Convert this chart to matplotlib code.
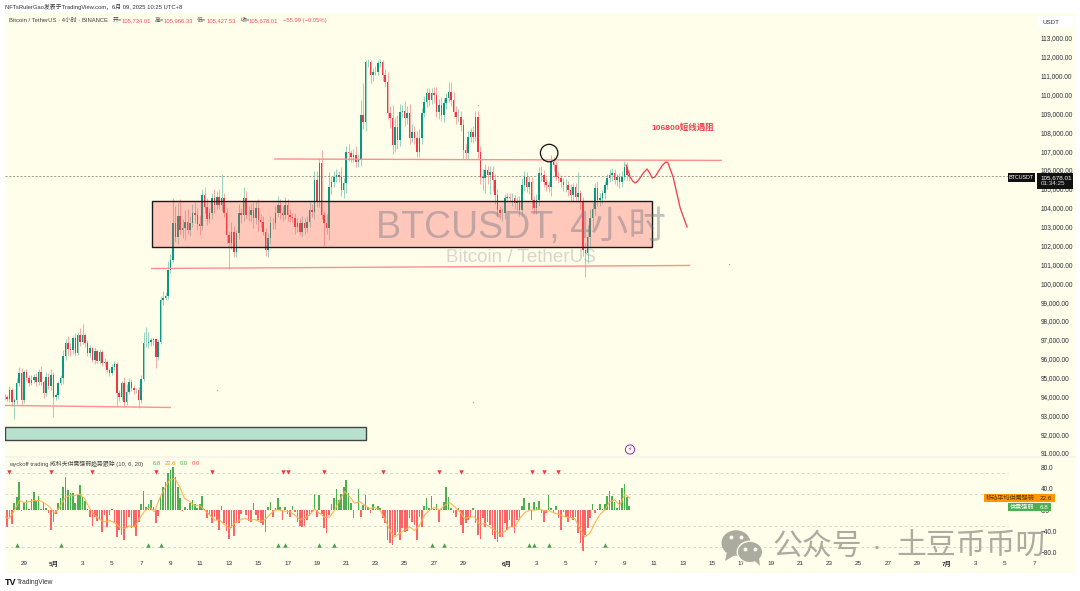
import matplotlib
matplotlib.use("Agg")
import matplotlib.pyplot as plt
from matplotlib.patches import Circle, Ellipse, Polygon, Rectangle
import numpy as np

plt.rcParams["font.family"] = ["Liberation Sans", "Noto Sans CJK SC", "DejaVu Sans"]

closes = [
    93980, 93840, 94330, 93710, 93800, 94690, 95220, 93800, 95300, 94950,
    94690, 94860, 95040, 94770, 95300, 94770, 94190, 95040, 94540, 95130,
    93980, 94070, 94720, 94950, 96140, 96810, 96490, 96450, 97070, 96310,
    97250, 96900, 97250, 96840, 96280, 96540, 95920, 96420, 95890, 96370,
    95750, 95830, 95390, 95250, 95570, 95710, 94190, 93980, 94720, 93710,
    94240, 94770, 94420, 94330, 94330, 93800, 94900, 96810, 96840, 96900,
    96980, 97020, 96100, 96900, 99110, 99190, 99320, 100700, 101230, 103210,
    102470, 103560, 102820, 102910, 103260, 102820, 103170, 103700, 103610, 103140,
    103030, 104680, 104020, 103380, 103700, 104500, 104145, 104590, 104145, 104500,
    103700, 102550, 102110, 102730, 101670, 102640, 103700, 103610, 104500, 103610,
    103610, 103880, 103440, 103970, 103350, 103260, 102730, 101760, 102380, 103170,
    103170, 103700, 104145, 103700, 103610, 104145, 103610, 103530, 103440, 103000,
    103170, 102730, 103170, 102910, 103260, 103880, 103790, 105470, 104320, 106350,
    103610, 103170, 102910, 105120, 105385, 105650, 105740, 105650, 104940, 105300,
    106975, 106885, 106710, 106800, 106445, 106530, 108920, 108565, 111745, 111745,
    111040, 111215, 111215, 111655, 111745, 111040, 110685, 109005, 108740, 107330,
    108300, 107590, 109095, 109150, 108740, 109005, 107680, 108035, 107680, 106975,
    107680, 109005, 109625, 110065, 109715, 110065, 109980, 109095, 109450, 108920,
    109535, 109800, 110155, 109715, 109095, 108830, 108830, 108390, 107065, 106885,
    107770, 108035, 107735, 108830, 106975, 105650, 105560, 106000, 105740, 105915,
    105475, 104680, 103880, 103705, 103705, 104500, 104590, 104500, 104500, 104235,
    104325, 103880, 105210, 105650, 105120, 105385, 104410, 103970, 104410, 105825,
    105740, 105385, 105210, 105120, 106445, 106270, 105650, 105560, 105385, 105210,
    105210, 104940, 104680, 105120, 104590, 104765, 104325, 101760, 101585, 102470,
    103440, 103920, 105030, 104410, 104500, 104765, 105210, 105560, 105740, 105860,
    105475, 105650, 105385, 105650, 106180, 105734, 105678,
]
upper_wicks = [
    150, 100, 200, 120, 100, 300, 350, 300, 120, 150,
    200, 250, 120, 200, 130, 300, 100, 250, 200, 300,
    150, 100, 100, 200, 300, 250, 400, 350, 150, 300,
    150, 350, 580, 100, 150, 200, 100, 200, 100, 150,
    100, 200, 100, 120, 150, 150, 120, 150, 100, 300,
    400, 200, 150, 180, 100, 150, 250, 600, 850, 500,
    120, 100, 100, 150, 200, 400, 200, 500, 300, 1300,
    900, 700, 900, 500, 600, 700, 400, 500, 600, 400,
    500, 300, 400, 500, 300, 300, 500, 300, 400, 1290,
    300, 300, 200, 500, 300, 200, 500, 300, 600, 400,
    500, 300, 400, 400, 500, 300, 300, 200, 300, 400,
    300, 400, 500, 300, 400, 400, 300, 300, 200, 300,
    300, 300, 400, 300, 300, 400, 300, 500, 500, 300,
    710, 200, 500, 800, 300, 300, 300, 200, 500, 300,
    300, 400, 200, 300, 500, 300, 800, 1700, 90, 150,
    100, 175, 300, 200, 150, 100, 300, 500, 400, 700,
    500, 600, 400, 300, 500, 400, 500, 400, 300, 400,
    500, 300, 300, 300, 300, 300, 350, 400, 300, 400,
    300, 300, 530, 500, 400, 300, 400, 300, 300, 300,
    300, 200, 300, 300, 300, 300, 400, 300, 200, 300,
    300, 300, 300, 200, 300, 250, 200, 200, 300, 200,
    250, 300, 350, 300, 250, 300, 250, 200, 300, 350,
    400, 250, 200, 200, 355, 250, 200, 300, 200, 200,
    300, 200, 300, 200, 200, 1145, 200, 250, 400, 600,
    500, 400, 300, 400, 300, 200, 200, 250, 300, 250,
    200, 150, 200, 300, 300, 250, 232,
]
lower_wicks = [
    100, 100, 150, 200, 930, 200, 150, 200, 150, 150,
    150, 100, 150, 200, 150, 150, 300, 150, 150, 200,
    1060, 150, 200, 100, 300, 200, 300, 300, 200, 150,
    100, 250, 150, 200, 150, 200, 100, 200, 100, 200,
    120, 150, 100, 150, 100, 150, 740, 250, 150, 300,
    150, 100, 150, 200, 150, 440, 150, 100, 200, 300,
    250, 250, 600, 150, 100, 250, 100, 150, 150, 100,
    300, 400, 250, 400, 600, 200, 300, 200, 400, 300,
    500, 200, 300, 300, 200, 300, 400, 200, 200, 300,
    200, 400, 1380, 300, 300, 300, 300, 400, 300, 200,
    300, 300, 500, 300, 600, 300, 200, 300, 390, 300,
    300, 300, 200, 300, 300, 200, 300, 300, 200, 400,
    300, 200, 300, 300, 200, 300, 300, 400, 300, 300,
    200, 1200, 300, 600, 400, 300, 300, 300, 300, 400,
    500, 400, 300, 300, 300, 300, 300, 400, 500, 300,
    400, 300, 200, 200, 200, 300, 300, 300, 500, 500,
    400, 500, 300, 300, 400, 300, 300, 200, 300, 300,
    300, 300, 200, 300, 300, 200, 400, 300, 400, 300,
    400, 300, 200, 300, 300, 400, 300, 300, 500, 300,
    300, 300, 300, 200, 400, 400, 600, 800, 500, 1000,
    600, 500, 300, 300, 400, 300, 200, 200, 400, 300,
    400, 300, 300, 300, 300, 400, 500, 300, 300, 300,
    300, 300, 300, 300, 500, 300, 200, 250, 300, 300,
    400, 300, 300, 400, 300, 300, 400, 300, 1235, 500,
    600, 500, 300, 300, 300, 300, 300, 200, 200, 300,
    200, 300, 350, 300, 200, 250, 250,
]
first_open = 94000

strength = [
    -22, -33, -13, -27, 14, 24, 54, -2, 13, 19,
    2, 21, 35, 18, 27, 2, 14, 3, -5, -38,
    -22, -8, 14, 22, 43, 63, 38, 32, 33, 14,
    28, 47, 24, 18, 2, -13, -30, -13, -20, -19,
    -41, -9, -33, -9, 2, -25, -51, -38, -47, -57,
    -33, -14, -35, -32, -49, -22, 11, 37, 5, 11,
    19, 5, -25, -11, 27, 43, 54, 70, 75, 82,
    62, 44, 22, -2, 6, 2, 13, 19, 11, 3,
    11, 27, 2, -16, -9, -24, -13, -19, -38, 8,
    -25, -39, -54, -35, -49, -25, -25, -8, 0, -9,
    -20, -22, 13, -9, -19, -25, -28, -41, 5, 16,
    -13, 3, 22, 5, -18, 6, -8, -14, 8, -3,
    -22, -30, -32, -30, -19, -11, -3, 30, -13, 28,
    -8, -35, -43, -9, 11, 22, 39, 19, 30, 43,
    56, 32, 14, -16, 0, 39, -14, 9, 28, 5,
    -6, 11, 2, 8, 3, -16, -25, -57, -63, -66,
    -47, -41, -57, -35, -41, -39, -16, -22, -28, -57,
    -13, -32, 8, 22, 3, 27, 2, 11, -22, 3,
    16, 44, 24, 3, -5, -13, 3, -28, -43, -25,
    -19, -13, 3, -25, -47, -54, -16, -32, -22, -28,
    -47, -54, -60, -51, -51, -25, -38, -19, -32, -44,
    -19, -19, 8, 22, 0, 14, -19, 16, 5, 18,
    -6, -22, -5, 28, 3, -6, 8, -16, -38, -3,
    -13, -22, -13, -19, -13, -44, -63, -77, -47, -35,
    -16, 11, -6, 2, 11, 2, 11, 27, 37, 27,
    16, 3, 19, 41, 49, 25, 6.8,
]
strength_ma = [
    -13, -16, 0, 18, 14, 16, 18, 18, 13, 6,
    -6, 5, 22, 28, 27, 30, 22, 3, -9, -18,
    -22, -20, -24, -32, -35, -30, -32, -16, -2, 5,
    -3, 22, 41, 57, 60, 44, 22, 16, 8, 9,
    0, -9, -19, -19, -28, -35, -25, -19, -16, -19,
    -18, -22, -19, -9, 0, 0, -2, -3, -9, -18,
    -16, -9, 2, -6, -14, -13, 0, 19, 35, 25,
    13, 16, 9, 3, 5, 0, -16, -38, -51, -44,
    -38, -32, -39, -28, -9, 0, 5, 0, 9, 14,
    6, -3, -16, -13, -13, -28, -25, -32, -38, -46,
    -41, -32, -32, -16, -5, 0, 0, 2, -2, -2,
    -6, -9, -13, -14, -16, -35, -51, -44, -25, -9,
    0, 16, 19, 9, 30, 22.6,
]
ma_bar_step = 2.05
signal_down_bars = [2, 19, 36, 62, 85, 114, 116, 131, 155, 178, 187, 216, 221, 227]
signal_up_bars = [5, 23, 59, 64, 112, 115, 129, 135, 175, 180, 215, 217, 223, 246]
signal_down_level = 72
signal_up_level = -66

price_ticks = list(range(91000, 114000, 1000))
strength_ticks = [80, 40, 0, -40, -80]
strength_grid = [70, 30, -30, -70]

tick_days = [0, 2, 4, 6, 8, 10, 12, 14, 16, 18, 20, 22, 24, 26, 28, 30, 33, 35, 37, 39,
             41, 43, 45, 47, 49, 51, 53, 55, 57, 59, 61, 63, 65, 67, 69]
tick_labels = ["29", "5月", "3", "5", "7", "9", "11", "13", "15", "17", "19", "21", "23",
               "25", "27", "29", "6月", "3", "5", "7", "9", "11", "13", "15", "17", "19",
               "21", "23", "25", "27", "29", "7月", "3", "5", "7"]
bars_per_day = 6
first_tick_bar = 8

# drawings on the chart, bar index / price
box_bars = [60.5, 265.4]
box_prices = [101920, 104357]
resistance_bars = [110.5, 294]
resistance_prices = [106585, 106510]
support_bars = [60, 281]
support_prices = [100780, 100940]
floor_bars = [0.2, 68.2]
floor_prices = [93520, 93410]
zone_bars = [0.2, 148.2]
zone_prices = [91685, 92375]
circle_bar = 223.2
circle_price = 106900
forecast_bars = [254.7, 255.6, 256.4, 257.4, 258.4, 259.4, 260.4, 261.8, 263.3, 264.4, 265.4,
                 266.6, 267.8, 269.6, 271.0, 271.8, 274, 276.9, 279.7]
forecast_prices = [106267, 105950, 105630, 105420, 105312, 105400, 105577, 105850, 106054, 105850, 105577,
                   105640, 105895, 106250, 106425, 106400, 105630, 103987, 102980]
last_price = 105678.01

BG = "#FFFEEB"
UP = "#089981"
DOWN = "#F23645"


def pane(x0, y0, x1, y1):
    return [x0 / 1080, 1 - y1 / 591, (x1 - x0) / 1080, (y1 - y0) / 591]


fig = plt.figure(figsize=(10.8, 5.91), dpi=100, facecolor="white")
ax = fig.add_axes(pane(5, 13, 1076, 456.5), facecolor=BG)
ax2 = fig.add_axes(pane(5, 457.5, 1076, 573), facecolor=BG)
for a in (ax, ax2):
    for s in a.spines.values():
        s.set_visible(False)
    a.set_xlim(0.2, 439.1)
    a.yaxis.tick_right()
    a.tick_params(axis="y", length=0, pad=-25.2, labelsize=4.7, labelcolor="#2A2E39")
ax.set_ylim(113000 - (456.5 - 38) * 53.02, 113000 + 25 * 53.02)
ax2.set_ylim(-119.4, 99.6)

bars = np.arange(len(closes))
closes_a = np.array(closes, dtype=float)
opens = np.r_[first_open, closes_a[:-1]]
highs = np.maximum(opens, closes_a) + np.array(upper_wicks)
lows = np.minimum(opens, closes_a) - np.array(lower_wicks)
colors = [UP if c >= o else DOWN for o, c in zip(opens, closes_a)]
ax.vlines(bars, lows, highs, colors=colors, lw=0.7, alpha=0.42, zorder=2)
ax.bar(bars, closes_a - opens, bottom=opens, width=0.62, color=colors, lw=0, zorder=3)

ax.set_yticks(price_ticks)
ax.set_yticklabels([f"{p:,.2f}" for p in price_ticks])
ax.set_xticks([])
ax.axhline(last_price, xmin=0, xmax=(1008 - 5) / 1071, color="#8f8f80", lw=0.6, ls=(0, (2.5, 2)), zorder=1)

ax.add_patch(Rectangle((box_bars[0], box_prices[0]), box_bars[1] - box_bars[0], box_prices[1] - box_prices[0],
                       facecolor=(1, 0.32, 0.32, 0.31), edgecolor="#1a1a1a", lw=1.0, zorder=4))
ax.add_patch(Rectangle((zone_bars[0], zone_prices[0]), zone_bars[1] - zone_bars[0], zone_prices[1] - zone_prices[0],
                       facecolor="#B9E2CE", edgecolor="#444444", lw=1.0, zorder=4))
for xs, ys in [(resistance_bars, resistance_prices), (support_bars, support_prices), (floor_bars, floor_prices)]:
    ax.plot(xs, ys, color="#FF8E8E", lw=1.0, zorder=5, solid_capstyle="butt")
ax.plot(forecast_bars, forecast_prices, color="#F2404F", lw=0.95, zorder=5)
ax.add_patch(Ellipse((circle_bar, circle_price), 17.5 / 2.44, 17.5 * 53.02, fill=False, edgecolor="#111111", lw=0.9, zorder=6))

ax2.bar(np.arange(len(strength)), strength, width=0.66, lw=0,
        color=["#4CAF50" if v >= 0 else "#FF6464" for v in strength], zorder=3)
ax2.plot(np.arange(len(strength_ma)) * ma_bar_step, strength_ma, color="#FFB04D", lw=0.85, alpha=0.9, zorder=4)
for level in strength_grid:
    ax2.axhline(level, xmin=0, xmax=(1008 - 5) / 1071, color="#d2d2c2", lw=0.6, ls=(0, (3.5, 3)), zorder=1)
ax2.plot(signal_down_bars, [signal_down_level] * len(signal_down_bars), ls="", marker="v", ms=3.2, color="#F23645", mew=0, zorder=5)
ax2.plot(signal_up_bars, [signal_up_level] * len(signal_up_bars), ls="", marker="^", ms=3.2, color="#43A047", mew=0, zorder=5)
ax2.set_yticks(strength_ticks)
ax2.set_yticklabels([f"{v:.1f}".replace("-", "−") for v in strength_ticks])
ax2.set_xticks([first_tick_bar + d * bars_per_day for d in tick_days])
ax2.set_xticklabels(tick_labels, fontsize=4.6, color="#2A2E39")
for lbl in ax2.get_xticklabels():
    if "月" in lbl.get_text():
        lbl.set_fontweight("bold")
ax2.tick_params(axis="x", length=0, pad=-8.4)

# overlay in image pixels for texts, labels and logos
ov = fig.add_axes([0, 0, 1, 1], facecolor="none")
ov.set_xlim(0, 1080)
ov.set_ylim(591, 0)
ov.axis("off")


def txt(x, y, s, size=4.2, color="#2A2E39", ha="left", **kw):
    ov.text(x, y, s, fontsize=size, color=color, ha=ha, va="center", **kw)


# pale seam between the two panes
ov.add_patch(Rectangle((5, 456), 1071, 2, facecolor="#F6F6E8", edgecolor="none", zorder=1))

txt(5, 7, "NFTsRulerGao发表于TradingView.com，6月 09, 2025 10:25 UTC+8", color="#333333")
txt(9, 20.5, "Bitcoin / TetherUS · 4小时 · BINANCE", color="#444444")
ohlc_red = "#F7525F"
for x, s, c in [(113, "开=", "#444444"), (122, "105,734.01", ohlc_red), (155, "高=", "#444444"),
                (164, "105,966.33", ohlc_red), (197, "低=", "#444444"), (207, "105,427.53", ohlc_red),
                (241, "收=", "#444444"), (249, "105,678.01", ohlc_red), (283, "−55.99 (−0.05%)", ohlc_red)]:
    txt(x, 20.5, s, color=c)

txt(9, 463.5, "wyckoff trading 威科夫供需强弱趋势跟踪 (10, 6, 20)", color="#444444")
for x, s, c in [(153, "6.8", "#4CAF50"), (165, "22.6", "#FF9800"), (180, "0.0", "#4CAF50"), (192, "0.0", "#FF5252")]:
    txt(x, 463.5, s, color=c)

txt(683, 127.5, "106800短线遇阻", size=6.1, color="#F2404F", ha="center", fontweight="bold")
txt(521, 228, "BTCUSDT, 4小时", size=27, color="#787B86", ha="center", alpha=0.45, zorder=6)
txt(520.5, 257.5, "Bitcoin / TetherUS", size=13.6, color="#787B86", ha="center", alpha=0.3, zorder=6)

# stray specks on the chart
ov.plot([217, 473, 729, 478], [390, 402, 264, 105], ls="", marker="o", ms=0.9, mew=0, color="#d98a8a")

# current price labels
ov.add_patch(Rectangle((1008, 173), 27, 9, facecolor="#111111", edgecolor="none", zorder=7))
txt(1021.5, 177.6, "BTCUSDT", size=3.9, color="white", ha="center", zorder=8)
ov.add_patch(Rectangle((1037, 173), 36, 15.5, facecolor="#111111", edgecolor="none", zorder=7))
txt(1040.5, 177.3, "105,678.01", size=4.5, color="white", zorder=8)
txt(1040.5, 183.7, "01:34:25", size=4.5, color="#dddddd", zorder=8)

# indicator value labels
ov.add_patch(Rectangle((984, 494), 52.5, 8.2, facecolor="#FF9800", edgecolor="none", zorder=7))
txt(1010, 498.2, "移动平均供需强弱", size=4.4, color="#5a3800", ha="center", zorder=8)
ov.add_patch(Rectangle((1037, 494), 18, 8.2, facecolor="#FF9800", edgecolor="none", zorder=7))
txt(1046, 498.2, "22.6", size=4.5, color="#4a3000", ha="center", zorder=8)
ov.add_patch(Rectangle((1008, 503), 28.5, 8.2, facecolor="#4CAF50", edgecolor="none", zorder=7))
txt(1022.5, 507.2, "供需强弱", size=4.4, color="white", ha="center", zorder=8)
ov.add_patch(Rectangle((1037, 503), 14, 8.2, facecolor="#4CAF50", edgecolor="none", zorder=7))
txt(1044, 507.2, "6.8", size=4.5, color="white", ha="center", zorder=8)

# USDT unit label
ov.add_patch(Rectangle((1038, 16), 35, 12, facecolor="white", edgecolor="none", zorder=7))
txt(1042.5, 22, "USDT", size=4.5, zorder=8)

# indicator marker
ov.add_patch(Circle((630, 449.5), 4.6, facecolor="none", edgecolor="#9C27B0", lw=0.7, zorder=7))
txt(630, 449.5, "⚡", size=4.2, color="#9C27B0", ha="center", family="DejaVu Sans", zorder=8)

# TradingView mark at the foot
txt(5, 582.5, "TV", size=6.5, color="#111111", fontweight="bold")
txt(17, 582.5, "TradingView", size=4.8, color="#333333")

# public account watermark
GRAY = "#ABABA0"
ov.add_patch(Ellipse((736, 543), 29, 25.5, facecolor=GRAY, edgecolor="none", zorder=9))
ov.add_patch(Polygon([[727, 552], [725, 561], [735, 555]], facecolor=GRAY, edgecolor="none", zorder=9))
ov.add_patch(Ellipse((750, 552), 25.5, 21.5, facecolor=GRAY, edgecolor=BG, lw=1.0, zorder=10))
ov.add_patch(Polygon([[754, 560], [760, 566], [759, 558]], facecolor=GRAY, edgecolor="none", zorder=10))
ov.plot([731, 741, 745, 755], [537, 537, 549, 549], ls="", marker="o", ms=2.8, mew=0, color=BG, zorder=11)
txt(772, 547, "公众号", size=21.5, color=GRAY, zorder=9)
txt(876, 547, "·", size=21.5, color=GRAY, ha="center", zorder=9)
txt(896, 547, "土豆币币叨", size=21.5, color=GRAY, zorder=9)

fig.savefig("out.png", dpi=100, facecolor="white")
plt.close(fig)
